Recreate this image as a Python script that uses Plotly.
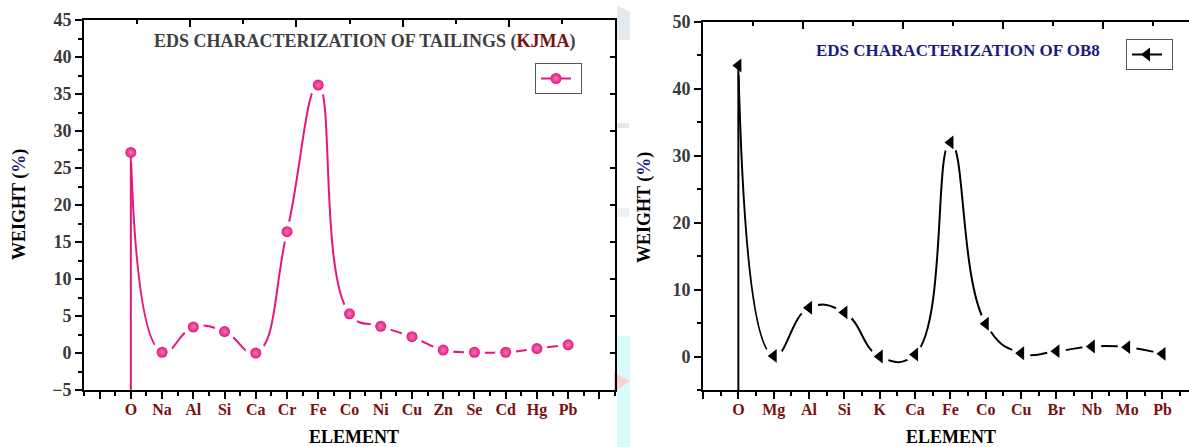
import plotly.graph_objects as go

# ---------------- data ----------------
left_elements = ["O", "Na", "Al", "Si", "Ca", "Cr", "Fe", "Co", "Ni", "Cu", "Zn", "Se", "Cd", "Hg", "Pb"]
left_weight = [27.1, 0.1, 3.5, 2.9, 0.0, 16.4, 36.2, 5.3, 3.6, 2.2, 0.4, 0.1, 0.1, 0.6, 1.1]

right_elements = ["O", "Mg", "Al", "Si", "K", "Ca", "Fe", "Co", "Cu", "Br", "Nb", "Mo", "Pb"]
right_weight = [43.5, 0.1, 7.3, 6.6, 0.0, 0.3, 32.0, 4.9, 0.5, 0.8, 1.5, 1.4, 0.4]

left_title = "EDS CHARACTERIZATION OF TAILINGS"
left_sample = "KJMA"
right_title = "EDS CHARACTERIZATION OF OB8"
x_title = "ELEMENT"
y_title = "WEIGHT"

# ---------------- styling ----------------
W, H = 1189, 447
FONT = "Liberation Serif, Times New Roman, serif"
PINK = "#e5177e"
PINK_HI = "#f77bb3"
BLACK = "#000000"
TICK_GRAY = "#3a3a3a"
DARK_RED = "#7a1111"
NAVY = "#1b1b82"

left_y_range = [-5, 45]
right_y_range = [-5, 50]


def px(xp):
    return xp / W


def py(yp):
    return 1 - yp / H


left_idx = list(range(len(left_elements)))
right_idx = list(range(len(right_elements)))

fig = go.Figure()

# ---------- left chart ----------
fig.add_trace(go.Scatter(x=left_idx, y=left_weight, mode="lines",
                         line=dict(color=PINK, width=2, shape="spline", smoothing=1.3),
                         showlegend=False, hoverinfo="skip", xaxis="x", yaxis="y"))
fig.add_trace(go.Scatter(x=left_idx, y=left_weight, mode="markers",
                         marker=dict(size=21, color="white", line=dict(width=0)),
                         showlegend=False, hoverinfo="skip", xaxis="x", yaxis="y"))
fig.add_trace(go.Scatter(x=[left_idx[0], left_idx[0]], y=[left_weight[0], left_y_range[0]],
                         mode="lines", line=dict(color=PINK, width=2),
                         showlegend=False, hoverinfo="skip", xaxis="x", yaxis="y"))
fig.add_trace(go.Scatter(x=left_idx, y=left_weight, mode="markers",
                         marker=dict(size=11, color=PINK, line=dict(width=0),
                                     gradient=dict(type="radial", color=PINK_HI)),
                         showlegend=False, xaxis="x", yaxis="y"))
fig.add_trace(go.Scatter(x=[None], y=[None], mode="lines+markers", name="",
                         line=dict(color=PINK, width=2),
                         marker=dict(size=11, color=PINK,
                                     gradient=dict(type="radial", color=PINK_HI)),
                         showlegend=True, legend="legend", xaxis="x", yaxis="y"))

# ---------- right chart ----------
fig.add_trace(go.Scatter(x=right_idx, y=right_weight, mode="lines",
                         line=dict(color=BLACK, width=2, shape="spline", smoothing=1.3),
                         showlegend=False, hoverinfo="skip", xaxis="x2", yaxis="y2"))
fig.add_trace(go.Scatter(x=right_idx, y=right_weight, mode="markers",
                         marker=dict(size=19, color="white", line=dict(width=0)),
                         showlegend=False, hoverinfo="skip", xaxis="x2", yaxis="y2"))
fig.add_trace(go.Scatter(x=[right_idx[0], right_idx[0]], y=[right_weight[0], right_y_range[0]],
                         mode="lines", line=dict(color=BLACK, width=2),
                         showlegend=False, hoverinfo="skip", xaxis="x2", yaxis="y2"))
fig.add_trace(go.Scatter(x=right_idx, y=right_weight, mode="markers",
                         marker=dict(size=12, color=BLACK, symbol="triangle-left", line=dict(width=0)),
                         showlegend=False, xaxis="x2", yaxis="y2"))
fig.add_trace(go.Scatter(x=[None], y=[None], mode="lines+markers", name="",
                         line=dict(color=BLACK, width=2),
                         marker=dict(size=12, color=BLACK, symbol="triangle-left"),
                         showlegend=True, legend="legend2", xaxis="x2", yaxis="y2"))

# invisible helpers so that the opposite axes are drawn
fig.add_trace(go.Scatter(x=[None], y=[None], xaxis="x3", yaxis="y", showlegend=False, hoverinfo="skip"))
fig.add_trace(go.Scatter(x=[None], y=[None], xaxis="x", yaxis="y3", showlegend=False, hoverinfo="skip"))
fig.add_trace(go.Scatter(x=[None], y=[None], xaxis="x4", yaxis="y2", showlegend=False, hoverinfo="skip"))

xtickfont = dict(family=FONT, size=16, color=DARK_RED, weight="bold")
ytickfont = dict(family=FONT, size=18, color=TICK_GRAY, weight="bold")
axline = dict(showline=True, linecolor="black", linewidth=1.6, showgrid=False, zeroline=False,
              automargin=False)

left_dom_x = [px(84), px(615)]
left_dom_y = [py(390), py(20)]
right_dom_x = [px(703), 1.0]
right_dom_y = [py(390), py(22)]

left_tickvals = list(range(-1, len(left_elements) + 1))
left_ticktext = [""] + left_elements + [""]
right_tickvals = list(range(-1, len(right_elements) + 1))
right_ticktext = [""] + right_elements + [""]

fig.update_layout(
    width=W, height=H,
    margin=dict(l=0, r=0, t=0, b=0, pad=0, autoexpand=False),
    paper_bgcolor="white", plot_bgcolor="rgba(0,0,0,0)",
    xaxis=dict(domain=left_dom_x, anchor="y", range=[-1.5, len(left_elements) + 0.5],
               tickmode="array", tickvals=left_tickvals, ticktext=left_ticktext,
               ticks="outside", ticklen=7, tickwidth=1.5, tickcolor="black",
               ticklabelstandoff=-3,
               minor=dict(tickmode="linear", tick0=0.5, dtick=1, ticks="outside", ticklen=4,
                          tickwidth=1.5, tickcolor="black"),
               tickfont=xtickfont, **axline),
    yaxis=dict(domain=left_dom_y, anchor="x", range=left_y_range,
               tickmode="linear", tick0=0, dtick=5,
               ticks="outside", ticklen=7, tickwidth=1.5, tickcolor="black",
               minor=dict(tickmode="linear", tick0=2.5, dtick=5, ticks="outside", ticklen=4,
                          tickwidth=1.5, tickcolor="black"),
               tickfont=ytickfont, **axline),
    xaxis3=dict(overlaying="x", side="top", anchor="y", range=[0, 10],
                tickmode="linear", tick0=0, dtick=2, ticks="inside", ticklen=7, tickwidth=1.5,
                tickcolor="black", showticklabels=False,
                minor=dict(tickmode="linear", tick0=1, dtick=2, ticks="inside", ticklen=4,
                           tickwidth=1.5, tickcolor="black"),
                **axline),
    yaxis3=dict(overlaying="y", side="right", anchor="x", range=left_y_range,
                tickmode="linear", tick0=0, dtick=5, ticks="inside", ticklen=5, tickwidth=1.5,
                tickcolor="black", showticklabels=False, **axline),
    xaxis2=dict(domain=right_dom_x, anchor="y2", range=[-1, 12.75],
                tickmode="array", tickvals=right_tickvals, ticktext=right_ticktext,
                ticks="outside", ticklen=7, tickwidth=1.5, tickcolor="black",
                ticklabelstandoff=-3,
                minor=dict(tickmode="linear", tick0=0.5, dtick=1, ticks="outside", ticklen=4,
                           tickwidth=1.5, tickcolor="black"),
                tickfont=xtickfont, **axline),
    yaxis2=dict(domain=right_dom_y, anchor="x2", range=right_y_range,
                tickmode="linear", tick0=0, dtick=10,
                ticks="outside", ticklen=7, tickwidth=1.5, tickcolor="black",
                minor=dict(tickmode="linear", tick0=5, dtick=10, ticks="outside", ticklen=4,
                           tickwidth=1.5, tickcolor="black"),
                tickfont=ytickfont, **axline),
    xaxis4=dict(overlaying="x2", side="top", anchor="y2", range=[0, (W - 703) / 50.0],
                tickmode="linear", tick0=0, dtick=2, ticks="inside", ticklen=7, tickwidth=1.5,
                tickcolor="black", showticklabels=False,
                minor=dict(tickmode="linear", tick0=1, dtick=2, ticks="inside", ticklen=4,
                           tickwidth=1.5, tickcolor="black"),
                **axline),
    legend=dict(x=px(535), y=py(63), xanchor="left", yanchor="top",
                bgcolor="white", bordercolor="#555555", borderwidth=1,
                font=dict(family=FONT, size=10), itemwidth=30,
                tracegroupgap=0, traceorder="normal"),
    legend2=dict(x=px(1126), y=py(39), xanchor="left", yanchor="top",
                 bgcolor="white", bordercolor="#555555", borderwidth=1,
                 font=dict(family=FONT, size=10), itemwidth=30),
)

ann_font = dict(family=FONT, weight="bold")
ann_common = dict(xref="paper", yref="paper", showarrow=False, xanchor="center", yanchor="middle")
fig.add_annotation(x=px(364), y=py(41),
                   text=f"{left_title} (<span style='color:{DARK_RED}'>{left_sample}</span>)",
                   font=dict(size=18, color="#404040", **ann_font), **ann_common)
fig.add_annotation(x=px(958), y=py(50),
                   text=right_title, font=dict(size=17, color=NAVY, **ann_font), **ann_common)
for cx in (354, 951):
    fig.add_annotation(x=px(cx), y=py(437),
                       text=x_title, font=dict(size=18, color="black", **ann_font), **ann_common)
for cx, cy in ((19, 205), (644, 207)):
    fig.add_annotation(x=px(cx), y=py(cy), textangle=-90,
                       text=f"{y_title} (<span style='color:{NAVY}'>%</span>)",
                       font=dict(size=18, color="black", **ann_font), **ann_common)

# faint watermark fragments of the source page
wm = [
    dict(type="rect", x0=px(617), x1=px(630), y0=py(447), y1=py(336), fillcolor="#d9fbfd"),
    dict(type="path", path=f"M {px(614)} {py(372)} L {px(630)} {py(381)} L {px(614)} {py(392)} Z",
         fillcolor="#f9d2cf"),
    dict(type="path", path=f"M {px(617)} {py(5)} L {px(630)} {py(12)} L {px(630)} {py(40)} L {px(617)} {py(40)} Z",
         fillcolor="#e4e9f0"),
    dict(type="rect", x0=px(617), x1=px(629), y0=py(128), y1=py(123), fillcolor="#e4e9ef"),
    dict(type="rect", x0=px(617), x1=px(629), y0=py(217), y1=py(208), fillcolor="#eef1f5"),
]
for s in wm:
    fig.add_shape(xref="paper", yref="paper", line=dict(width=0), layer="below", **s)

fig.write_html("out.html")
